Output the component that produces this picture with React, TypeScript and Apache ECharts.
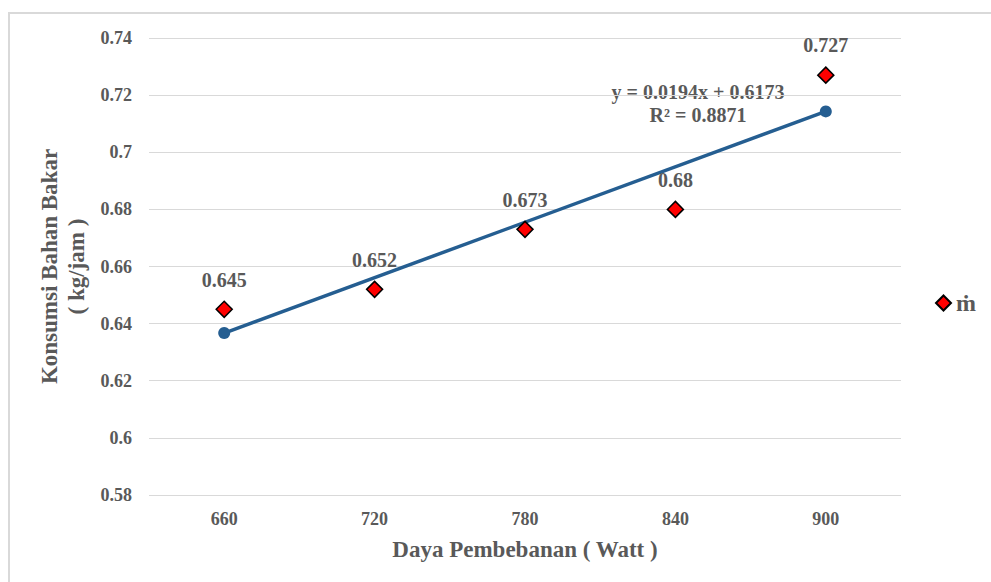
import React, { useEffect, useRef } from "react";
import * as echarts from "echarts";

const categories = ["660", "720", "780", "840", "900"];
const massFlow = [0.645, 0.652, 0.673, 0.68, 0.727];
const trendline = [0.6367, null, null, null, 0.7143];
const equationLines = ["y = 0.0194x + 0.6173", "R² = 0.8871"];

const FONT = "Liberation Serif";
const GREY = "#595959";

export default function App() {
  const ref = useRef<HTMLDivElement>(null);
  useEffect(() => {
    if (!ref.current) return;
    const chart = echarts.init(ref.current, undefined, { renderer: "svg" });
    chart.setOption({
      animation: false,
      backgroundColor: "#fff",
      textStyle: { fontFamily: FONT },
      grid: { left: 149, right: 90, top: 38, bottom: 87, containLabel: false },
      legend: {
        data: ["ṁ"],
        left: 930,
        top: 286,
        orient: "vertical",
        itemWidth: 15,
        itemHeight: 15,
        itemGap: 8,
        textStyle: { fontFamily: FONT, fontSize: 24, fontWeight: "bold", color: GREY },
      },
      xAxis: {
        type: "category",
        data: categories,
        boundaryGap: true,
        axisLine: { show: false },
        axisTick: { show: false },
        axisLabel: { fontFamily: FONT, fontSize: 18, fontWeight: "bold", color: GREY, margin: 15 },
        name: "Daya Pembebanan ( Watt )",
        nameLocation: "middle",
        nameGap: 43,
        nameTextStyle: { fontFamily: FONT, fontSize: 23, fontWeight: "bold", color: GREY },
      },
      yAxis: {
        type: "value",
        min: 0.58,
        max: 0.74,
        interval: 0.02,
        axisLine: { show: false },
        axisTick: { show: false },
        splitLine: { lineStyle: { color: "#d9d9d9", width: 1 } },
        axisLabel: { fontFamily: FONT, fontSize: 18, fontWeight: "bold", color: GREY, margin: 17 },
        name: "Konsumsi Bahan Bakar\n( kg/jam )",
        nameLocation: "middle",
        nameGap: 59,
        nameTextStyle: { fontFamily: FONT, fontSize: 23, fontWeight: "bold", color: GREY, lineHeight: 27 },
      },
      series: [
        {
          name: "trend",
          type: "line",
          data: trendline,
          connectNulls: true,
          symbol: "circle",
          symbolSize: 12,
          lineStyle: { color: "#255e91", width: 3.5 },
          itemStyle: { color: "#255e91" },
          z: 2,
        },
        {
          name: "ṁ",
          type: "scatter",
          data: massFlow,
          symbol: "diamond",
          symbolSize: 16,
          itemStyle: { color: "#ff0000", borderColor: "#000", borderWidth: 1.5, opacity: 1 },
          label: {
            show: true,
            position: "top",
            distance: 11,
            fontFamily: FONT,
            fontSize: 20,
            fontWeight: "bold",
            color: GREY,
          },
          z: 3,
        },
      ],
      graphic: [
        {
          type: "rect",
          shape: { x: 9, y: 13, width: 1100, height: 700 },
          style: { fill: "none", stroke: "#d9d9d9", lineWidth: 2 },
          silent: true,
          z: -1,
        },
        {
          type: "text",
          x: 698,
          y: 80,
          style: {
            text: equationLines.join("\n"),
            fontFamily: FONT,
            fontSize: 20,
            fontWeight: "bold",
            fill: GREY,
            align: "center",
            verticalAlign: "top",
            lineHeight: 23,
          },
        },
      ],
    });
    return () => chart.dispose();
  }, []);
  return <div ref={ref} style={{ width: 991, height: 582, position: "absolute", left: 0, top: 0 }} />;
}
